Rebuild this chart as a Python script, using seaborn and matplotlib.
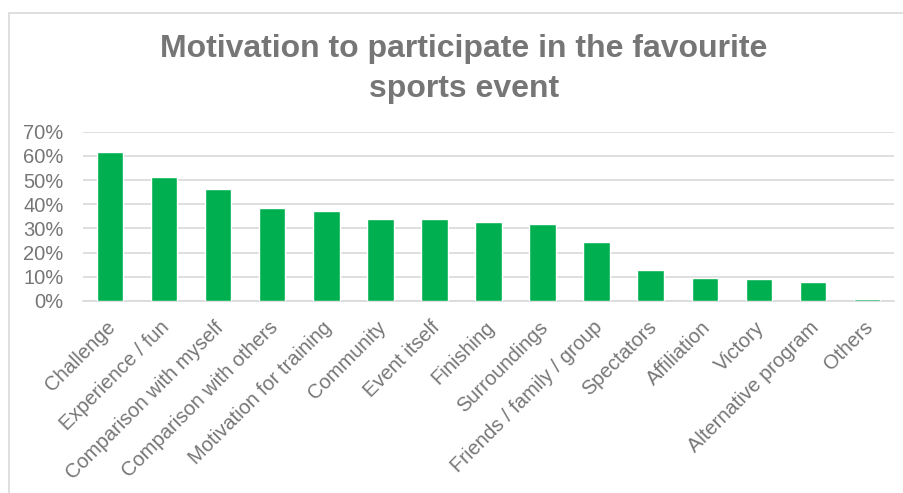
import matplotlib
matplotlib.use("Agg")
import matplotlib.pyplot as plt
import matplotlib.transforms as mtransforms
import seaborn as sns
import pandas as pd
from matplotlib.ticker import PercentFormatter, MultipleLocator
from matplotlib.lines import Line2D

categories = ["Challenge", "Experience / fun", "Comparison with myself",
              "Comparison with others", "Motivation for training", "Community",
              "Event itself", "Finishing", "Surroundings", "Friends / family / group",
              "Spectators", "Affiliation", "Victory", "Alternative program", "Others"]
values = [0.615, 0.514, 0.464, 0.384, 0.373, 0.340, 0.340, 0.328, 0.317,
          0.243, 0.128, 0.095, 0.092, 0.080, 0.007]
title_lines = ["Motivation to participate in the favourite", "sports event"]

df = pd.DataFrame({"category": categories, "value": values})

sns.set_theme(style="white")
plt.rcParams["font.family"] = ["Liberation Sans", "DejaVu Sans"]

text_color = "#767676"
grid_color = "#d9d9d9"

fig = plt.figure(figsize=(9.04, 4.93), dpi=100)
ax = fig.add_axes([83/904, 192/493, (894-83)/904, (361.3-192)/493])

sns.barplot(data=df, x="category", y="value", color="#00B050", width=0.49,
            saturation=1, ax=ax, zorder=3)

ax.set_ylim(0, 0.7)
ax.set_xlim(-0.5, len(categories) - 0.5)
ax.yaxis.set_major_locator(MultipleLocator(0.1))
ax.yaxis.set_major_formatter(PercentFormatter(1.0, decimals=0))
ax.grid(axis="y", color=grid_color, linewidth=1.2, zorder=0)
ax.grid(axis="x", visible=False)
for s in ["top", "right", "left"]:
    ax.spines[s].set_visible(False)
ax.spines["bottom"].set_color(grid_color)
ax.spines["bottom"].set_linewidth(1.2)
ax.set_xlabel("")
ax.set_ylabel("")

ax.tick_params(axis="y", length=0, pad=14, labelsize=14.5, labelcolor=text_color)
ax.tick_params(axis="x", length=0, pad=12, labelsize=14.5, labelcolor=text_color)
offset = mtransforms.ScaledTranslation(-4/100, 0, fig.dpi_scale_trans)
for lbl in ax.get_xticklabels():
    lbl.set_rotation(45)
    lbl.set_ha("right")
    lbl.set_va("top")
    lbl.set_rotation_mode("anchor")
    lbl.set_transform(lbl.get_transform() + offset)

baselines = [57.3, 97.3]
for line, yb in zip(title_lines, baselines):
    fig.text(464/904, 1 - yb/493, line, ha="center", va="baseline", fontsize=23,
             fontweight="bold", color=text_color)

# chart border (top and left visible)
fig.add_artist(Line2D([9/904, 9/904], [0, 1 - 13/493], transform=fig.transFigure,
                      color=grid_color, linewidth=1.2))
fig.add_artist(Line2D([9/904, 1], [1 - 13/493, 1 - 13/493], transform=fig.transFigure,
                      color=grid_color, linewidth=1.2))

fig.savefig("out.png", dpi=100, facecolor="white")
